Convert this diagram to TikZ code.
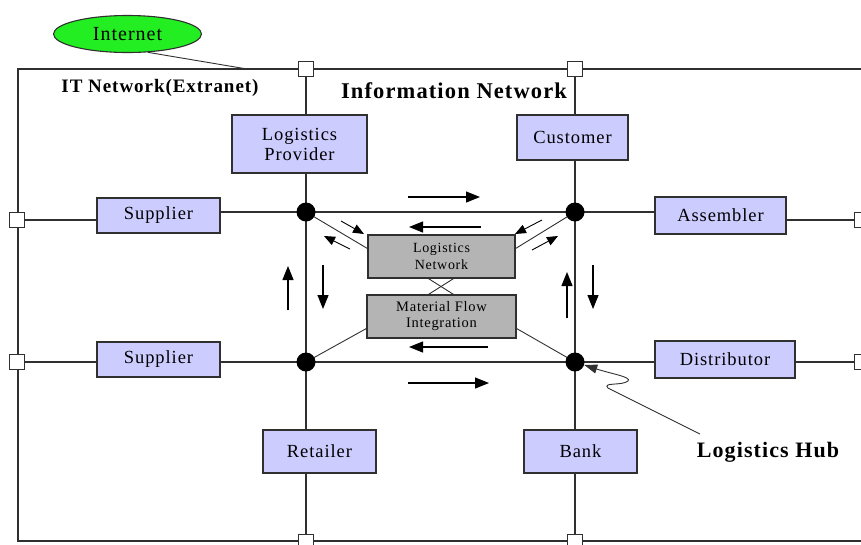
\documentclass[tikz,border=0pt]{standalone}
\usepackage{fontspec}
\setmainfont{Liberation Serif}[LetterSpace=5]
\usetikzlibrary{arrows.meta,shapes.geometric}
\pgfdeclarelayer{bg}
\pgfsetlayers{bg,main}
\definecolor{lav}{HTML}{CCCCFF}
\definecolor{grayb}{HTML}{B4B4B4}
\definecolor{inetgreen}{HTML}{22EE22}
\definecolor{ln}{HTML}{303030}
\tikzset{
 ent/.style={draw=ln, line width=1.2pt, fill=lav, inner sep=0pt, font=\fontsize{18.5}{20}\selectfont, align=center},
 core/.style={draw=ln, line width=1.2pt, fill=grayb, inner sep=0pt, align=center},
 port/.style={draw=ln, line width=1.1pt, fill=white, minimum size=15pt, inner sep=0pt},
 hub/.style={circle, fill=black, minimum size=19pt, inner sep=0pt},
 wire/.style={draw=ln, line width=1.2pt},
 thinw/.style={draw=ln, line width=0.9pt},
 flow/.style={draw=black, line width=1.2pt, -{Triangle[length=14pt,width=11pt]}},
 sflow/.style={draw=black, line width=0.9pt, -{Triangle[length=11pt,width=9pt]}},
}
\begin{document}
\begin{tikzpicture}[x=1pt,y=-1pt]
\useasboundingbox (0,0) rectangle (861,544);
\clip (0,0) rectangle (861,544);
% ports
\node[port] (pT1) at (306,69) {};
\node[port] (pT2) at (575,69) {};
\node[port] (pB1) at (306,542) {};
\node[port] (pB2) at (575,542) {};
\node[port] (pL1) at (17,220) {};
\node[port] (pL2) at (17,362) {};
\node[port] (pR1) at (862,220) {};
\node[port] (pR2) at (862,362) {};
% entities
\node[ent, minimum width=135pt, minimum height=58pt] (lp) at (299.5,144) {Logistics\\Provider};
\node[ent, minimum width=111pt, minimum height=45pt] (cu) at (572.5,137.5) {Customer};
\node[ent, minimum width=123pt, minimum height=35pt] (s1) at (158.5,215.5) {Supplier};
\node[ent, minimum width=131pt, minimum height=37pt] (as) at (720.5,215.5) {Assembler};
\node[ent, minimum width=123pt, minimum height=35pt] (s2) at (158.5,359.5) {Supplier};
\node[ent, minimum width=140pt, minimum height=37pt] (di) at (725,359.5) {Distributor};
\node[ent, minimum width=113pt, minimum height=43pt] (re) at (319.5,451.5) {Retailer};
\node[ent, minimum width=113pt, minimum height=43pt] (ba) at (580.5,451.5) {Bank};
\node[core, minimum width=147pt, minimum height=43pt, font=\fontsize{14}{16.5}\selectfont] (lnw) at (441.5,256.5) {Logistics\\Network};
\node[core, minimum width=149pt, minimum height=43pt, font=\fontsize{14.5}{16}\selectfont] (mfi) at (441.5,316.5) {Material Flow\\Integration};
% hubs
\node[hub] (hTL) at (306,212) {};
\node[hub] (hTR) at (575,212) {};
\node[hub] (hBL) at (306,362) {};
\node[hub] (hBR) at (575,362) {};
% internet
\node[ellipse, draw=ln, line width=1.1pt, fill=inetgreen, minimum width=148pt, minimum height=37pt, inner sep=0pt, font=\fontsize{20}{22}\selectfont] (inet) at (127.5,34) {Internet};
\coordinate (inetend) at (247,69);
% labels
\node[font=\bfseries\fontsize{19}{21}\selectfont] (itn) at (160,88) {IT Network(Extranet)};
\node[font=\bfseries\fontsize{22.5}{24}\selectfont] (inf) at (454,91) {Information Network};
\node[font=\bfseries\fontsize{22}{24}\selectfont] (hubl) at (768,452) {Logistics Hub};
% background wiring
\begin{pgfonlayer}{bg}
\draw[wire] (18,69) rectangle (862,541);
\draw[wire] (pT1) -- (pB1);
\draw[wire] (pT2) -- (pB2);
\draw[wire] (pL1) -- (pL1 -| s1.center);
\draw[wire] (s1.center |- hTL) -- (hTR -| as.center);
\draw[wire] (as.center |- pR1) -- (pR1);
\draw[wire] (pL2) -- (pR2);
\draw[thinw] (hTL.center) -- ([yshift=8pt]lnw.west);
\draw[thinw] (hTR.center) -- ([yshift=8pt]lnw.east);
\draw[thinw] (hBL.center) -- ([yshift=-12pt]mfi.west);
\draw[thinw] (hBR.center) -- ([yshift=-12pt]mfi.east);
\draw[thinw] ([xshift=-13pt]lnw.south) -- ([xshift=12pt]mfi.north);
\draw[thinw] ([xshift=12pt]lnw.south) -- ([xshift=-13pt]mfi.north);
\draw[thinw] (inet.-42) -- (inetend);
\end{pgfonlayer}
% flow arrows
\coordinate (a1s) at (408,197); \coordinate (a1e) at (480,197);
\coordinate (a2s) at (481,227); \coordinate (a2e) at (409,227);
\coordinate (a3s) at (488,347); \coordinate (a3e) at (409,347);
\coordinate (a4s) at (408,383); \coordinate (a4e) at (489,383);
\coordinate (a5s) at (288,310); \coordinate (a5e) at (288,266);
\coordinate (a6s) at (323,265); \coordinate (a6e) at (323,309);
\coordinate (a7s) at (567,318); \coordinate (a7e) at (567,272);
\coordinate (a8s) at (593,265); \coordinate (a8e) at (593,309);
\coordinate (a9s) at (341,221); \coordinate (a9e) at (364,234);
\coordinate (a10s) at (350,249); \coordinate (a10e) at (324,236);
\coordinate (a11s) at (542,220); \coordinate (a11e) at (515,234);
\coordinate (a12s) at (532,250); \coordinate (a12e) at (558,236);
\foreach \i in {1,...,8} {\draw[flow] (a\i s) -- (a\i e);}
\foreach \i in {9,...,12} {\draw[sflow] (a\i s) -- (a\i e);}
% logistics hub pointer
\coordinate (hp0) at (700,434);
\draw[thinw, -{Triangle[length=13pt,width=9pt]}] (hp0) -- (608,388) .. controls (602,382) and (622,386) .. (628,381) .. controls (632,377) and (612,374) .. (hBR);
\end{tikzpicture}
\end{document}
